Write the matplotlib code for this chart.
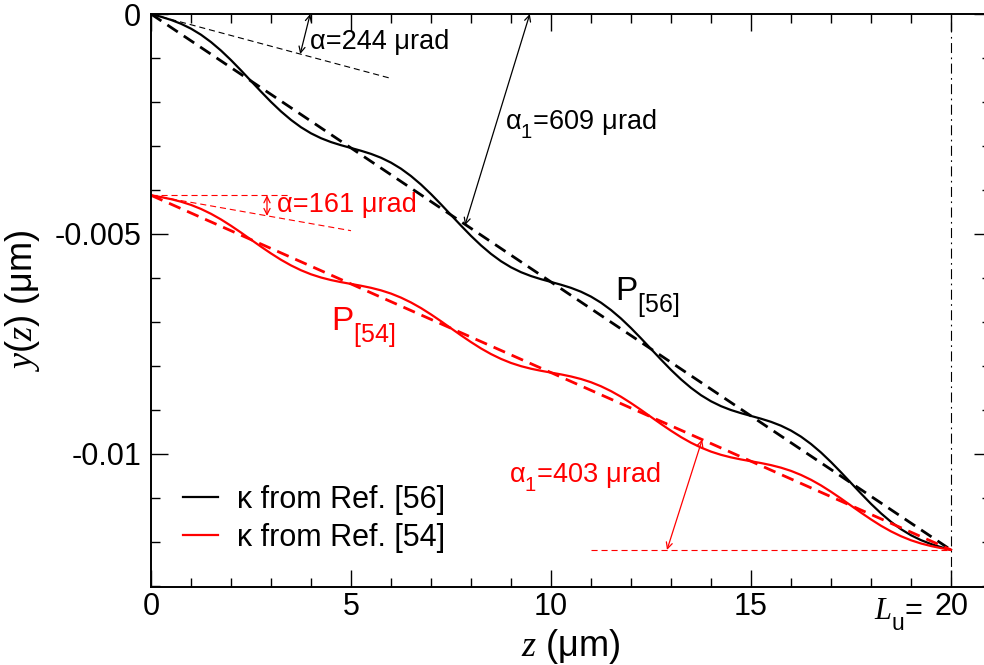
import matplotlib
matplotlib.use('Agg')
import matplotlib.pyplot as plt
from matplotlib.ticker import MultipleLocator, FixedLocator, FixedFormatter
import numpy as np

# deeper, larger subscripts as in the original figure
try:
    import matplotlib._mathtext as _mt
    _mt.FontConstantsBase.sub1 = 0.75
    _mt.SHRINK_FACTOR = 0.75
except Exception:
    pass

plt.rcParams['font.family'] = ['Liberation Sans', 'DejaVu Sans']
plt.rcParams['mathtext.fontset'] = 'custom'
plt.rcParams['mathtext.it'] = 'Liberation Serif:italic'
plt.rcParams['mathtext.rm'] = 'Liberation Sans'
plt.rcParams['mathtext.sf'] = 'Liberation Sans'
plt.rcParams['axes.unicode_minus'] = False

# Trajectories y(z) (y in units of 1e-3 um)
z = [0, 0.25, 0.5, 0.75, 1, 1.25, 1.5, 1.75, 2, 2.25, 2.5, 2.75, 3, 3.25, 3.5, 3.75,
     4, 4.25, 4.5, 4.75, 5, 5.25, 5.5, 5.75, 6, 6.25, 6.5, 6.75, 7, 7.25, 7.5, 7.75,
     8, 8.25, 8.5, 8.75, 9, 9.25, 9.5, 9.75, 10, 10.25, 10.5, 10.75, 11, 11.25, 11.5,
     11.75, 12, 12.25, 12.5, 12.75, 13, 13.25, 13.5, 13.75, 14, 14.25, 14.5, 14.75,
     15, 15.25, 15.5, 15.75, 16, 16.25, 16.5, 16.75, 17, 17.25, 17.5, 17.75, 18,
     18.25, 18.5, 18.75, 19, 19.25, 19.5, 19.75, 20]
y_56 = [0.000, -0.063, -0.134, -0.222, -0.333, -0.471, -0.638, -0.831, -1.048, -1.281,
        -1.523, -1.764, -1.998, -2.214, -2.407, -2.574, -2.712, -2.823, -2.911, -2.982,
        -3.045, -3.108, -3.179, -3.267, -3.378, -3.516, -3.683, -3.876, -4.093, -4.326,
        -4.568, -4.809, -5.043, -5.259, -5.452, -5.619, -5.757, -5.868, -5.956, -6.027,
        -6.090, -6.153, -6.224, -6.312, -6.423, -6.561, -6.728, -6.921, -7.138, -7.371,
        -7.613, -7.854, -8.088, -8.304, -8.497, -8.664, -8.802, -8.913, -9.001, -9.072,
        -9.135, -9.198, -9.269, -9.357, -9.468, -9.606, -9.773, -9.966, -10.183, -10.416,
        -10.658, -10.899, -11.133, -11.349, -11.542, -11.709, -11.847, -11.958, -12.046, -12.117,
        -12.180]
y_54 = [-4.120, -4.161, -4.208, -4.266, -4.339, -4.431, -4.541, -4.669, -4.813, -4.967,
        -5.128, -5.288, -5.442, -5.586, -5.714, -5.824, -5.916, -5.989, -6.047, -6.094,
        -6.135, -6.176, -6.223, -6.281, -6.354, -6.446, -6.556, -6.684, -6.828, -6.982,
        -7.143, -7.303, -7.457, -7.601, -7.729, -7.839, -7.931, -8.004, -8.062, -8.109,
        -8.150, -8.191, -8.238, -8.296, -8.369, -8.461, -8.571, -8.699, -8.843, -8.997,
        -9.158, -9.318, -9.472, -9.616, -9.744, -9.854, -9.946, -10.019, -10.077, -10.124,
        -10.165, -10.206, -10.253, -10.311, -10.384, -10.476, -10.586, -10.714, -10.858, -11.012,
        -11.173, -11.333, -11.487, -11.631, -11.759, -11.869, -11.961, -12.034, -12.092, -12.139,
        -12.180]

# averaged (straight) trajectories
fit_z = [0, 20]
fit_56 = [0, -12.18]
fit_54 = [-4.12, -12.18]

# entrance tangents and reference lines
tan56_z, tan56_y = [0, 6], [0, -1.464]
tan54_z, tan54_y = [0, 5], [-4.12, -4.925]
hor54_z, hor54_y = [0, 3.5], [-4.12, -4.12]
exit_z, exit_y = [11, 20], [-12.18, -12.18]

labels = ['\u03ba from Ref. [56]', '\u03ba from Ref. [54]']

s = 1e-3
fig = plt.figure(figsize=(9.84, 6.65), dpi=100)
ax = fig.add_axes([151 / 984, 78 / 665, 840 / 984, 573 / 665])

ax.plot(z, np.array(y_56) * s, color='k', lw=1.6, label=labels[0])
ax.plot(z, np.array(y_54) * s, color='red', lw=1.6, label=labels[1])
ax.plot(fit_z, np.array(fit_56) * s, color='k', lw=2.0, dashes=(4.5, 2.6))
ax.plot(fit_z, np.array(fit_54) * s, color='red', lw=2.0, dashes=(4.5, 2.6))

thin = dict(lw=0.8, dashes=(5.5, 3.5))
ax.plot(tan56_z, np.array(tan56_y) * s, color='k', **thin)
ax.plot(tan54_z, np.array(tan54_y) * s, color='red', **thin)
ax.plot(hor54_z, np.array(hor54_y) * s, color='red', **thin)
ax.plot(exit_z, np.array(exit_y) * s, color='red', **thin)
ax.axvline(20, color='k', lw=0.8, dashes=(9, 4, 1.5, 4))

def arrow(p0, p1, color):
    ax.annotate('', xy=(p1[0], p1[1] * s), xytext=(p0[0], p0[1] * s),
                arrowprops=dict(arrowstyle='<->', color=color, lw=0.9,
                                shrinkA=0, shrinkB=0, mutation_scale=11))

arrow((3.98, 0.0), (3.73, -0.91), 'k')
arrow((9.47, 0.0), (7.85, -4.80), 'k')
arrow((2.9, -4.12), (2.9, -4.59), 'red')
arrow((13.78, -9.67), (12.9, -12.18), 'red')

fs_ann = 19.5
ax.text(3.98, -0.64 * s, '\u03b1=244 \u03bcrad', fontsize=fs_ann, va='center', ha='left')
ax.text(8.85, -2.50 * s, '\u03b1$_1$=609 \u03bcrad', fontsize=fs_ann, va='center', ha='left')
ax.text(3.15, -4.34 * s, '\u03b1=161 \u03bcrad', fontsize=fs_ann, va='center', ha='left', color='red')
ax.text(8.95, -10.52 * s, '\u03b1$_1$=403 \u03bcrad', fontsize=fs_ann, va='center', ha='left', color='red')
ax.text(11.6, -6.5 * s, 'P$_{[56]}$', fontsize=24, va='baseline', ha='left')
ax.text(4.5, -7.18 * s, 'P$_{[54]}$', fontsize=24, va='baseline', ha='left', color='red')

ax.set_xlim(0, 21)
ax.set_ylim(-0.013023, 0)
ax.xaxis.set_major_locator(FixedLocator([0, 5, 10, 15, 20]))
ax.xaxis.set_major_formatter(FixedFormatter(['0', '5', '10', '15', '20']))
ax.xaxis.set_minor_locator(MultipleLocator(1))
ax.yaxis.set_major_locator(FixedLocator([0, -0.005, -0.01]))
ax.yaxis.set_major_formatter(FixedFormatter(['0', '-0.005', '-0.01']))
ax.yaxis.set_minor_locator(MultipleLocator(0.001))
ax.tick_params(which='both', direction='in', top=True, right=True, width=1.0)
ax.tick_params(which='major', length=12, labelsize=22)
ax.tick_params(axis='y', which='major', pad=7)
ax.tick_params(which='minor', length=6.5)
for sp in ax.spines.values():
    sp.set_linewidth(1.4)

ax.text(19.3, -0.0576, '$L_\\mathrm{u}$=', transform=ax.get_xaxis_transform(),
        fontsize=22, ha='right', va='baseline')

ax.set_xlabel('$z$ (\u03bcm)', fontsize=26, labelpad=4)
ax.set_ylabel('$\\mathit{y(z)}$ (\u03bcm)', fontsize=26, labelpad=9)

ax.legend(loc='upper left', bbox_to_anchor=(0.038, 0.178), frameon=False, fontsize=22,
          handlelength=1.15, handletextpad=0.62, labelspacing=0.26, borderaxespad=0,
          borderpad=0)

fig.savefig('out.png', dpi=100)
